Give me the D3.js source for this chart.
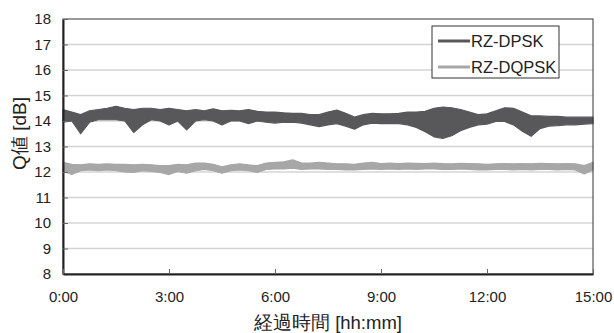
<!DOCTYPE html>
<html>
<head>
<meta charset="utf-8">
<script src="https://cdn.jsdelivr.net/npm/d3@7"></script>
<style>
  body { margin: 0; background: #fff; }
  svg { display: block; font-family: "Liberation Sans", Arial, sans-serif; }
</style>
</head>
<body>
<svg id="chart" width="614" height="333"></svg>
<script>
// Q factor over elapsed time, two formats (band = min/max envelope)
const seriesNames = ["RZ-DPSK", "RZ-DQPSK"];
const hours = [0, 0.25, 0.5, 0.75, 1, 1.25, 1.5, 1.75, 2, 2.25, 2.5, 2.75, 3, 3.25, 3.5, 3.75,
    4, 4.25, 4.5, 4.75, 5, 5.25, 5.5, 5.75, 6, 6.25, 6.5, 6.75, 7, 7.25, 7.5, 7.75,
    8, 8.25, 8.5, 8.75, 9, 9.25, 9.5, 9.75, 10, 10.25, 10.5, 10.75, 11, 11.25, 11.5, 11.75,
    12, 12.25, 12.5, 12.75, 13, 13.25, 13.5, 13.75, 14, 14.25, 14.5, 14.75, 15];

const dpskHigh = [14.45, 14.35, 14.25, 14.40, 14.45, 14.50, 14.58, 14.50, 14.45, 14.50, 14.50, 14.45, 14.50, 14.45, 14.40, 14.45,
    14.40, 14.48, 14.40, 14.42, 14.40, 14.45, 14.38, 14.35, 14.35, 14.32, 14.30, 14.30, 14.25, 14.25, 14.35, 14.43,
    14.30, 14.15, 14.25, 14.30, 14.28, 14.28, 14.30, 14.35, 14.35, 14.38, 14.50, 14.55, 14.52, 14.45, 14.35, 14.25,
    14.28, 14.40, 14.52, 14.50, 14.35, 14.20, 14.20, 14.18, 14.18, 14.15, 14.15, 14.15, 14.15];
const dpskLow = [13.95, 14.00, 13.50, 13.95, 14.05, 14.05, 14.05, 14.00, 13.55, 13.85, 14.05, 14.00, 13.85, 14.00, 13.65, 14.00,
    14.05, 14.00, 13.85, 14.00, 14.00, 13.90, 14.00, 13.95, 13.92, 13.95, 13.95, 13.92, 13.85, 13.78, 13.85, 13.90,
    13.80, 13.68, 13.85, 13.92, 13.90, 13.90, 13.90, 13.85, 13.75, 13.58, 13.38, 13.32, 13.42, 13.62, 13.75, 13.85,
    13.88, 13.98, 13.98, 13.85, 13.60, 13.40, 13.70, 13.80, 13.82, 13.85, 13.85, 13.88, 13.90];

const dqpskHigh = [12.38, 12.30, 12.28, 12.32, 12.30, 12.32, 12.30, 12.30, 12.28, 12.30, 12.28, 12.25, 12.25, 12.30, 12.28, 12.35,
    12.35, 12.30, 12.20, 12.28, 12.32, 12.28, 12.25, 12.35, 12.38, 12.40, 12.48, 12.35, 12.35, 12.38, 12.35, 12.32,
    12.32, 12.30, 12.35, 12.38, 12.33, 12.35, 12.33, 12.35, 12.34, 12.33, 12.35, 12.33, 12.32, 12.34, 12.33, 12.32,
    12.30, 12.32, 12.33, 12.32, 12.33, 12.32, 12.34, 12.33, 12.32, 12.33, 12.32, 12.25, 12.38];
const dqpskLow = [12.05, 11.90, 12.05, 12.08, 12.05, 12.08, 12.05, 12.00, 11.98, 12.05, 12.02, 11.98, 11.90, 12.02, 11.95, 12.05,
    12.10, 12.05, 11.95, 12.05, 12.08, 12.05, 11.98, 12.10, 12.12, 12.12, 12.15, 12.10, 12.12, 12.12, 12.10, 12.10,
    12.08, 12.08, 12.10, 12.12, 12.10, 12.12, 12.10, 12.12, 12.10, 12.12, 12.12, 12.10, 12.10, 12.12, 12.10, 12.08,
    12.08, 12.10, 12.10, 12.08, 12.10, 12.08, 12.10, 12.10, 12.08, 12.10, 12.08, 11.92, 12.08];

const xTicks = [0, 3, 6, 9, 12, 15];
const xTickLabels = ["0:00", "3:00", "6:00", "9:00", "12:00", "15:00"];
const yTicks = [8, 9, 10, 11, 12, 13, 14, 15, 16, 17, 18];

const colors = ["#58585a", "#a7a7a7"];

const margin = {top: 19, right: 21, bottom: 59, left: 63};
const width = 614 - margin.left - margin.right;
const height = 333 - margin.top - margin.bottom;

const svg = d3.select("#chart")
    .append("g")
    .attr("transform", `translate(${margin.left},${margin.top})`);

const x = d3.scaleLinear().domain([0, 15]).range([0, width]);
const y = d3.scaleLinear().domain([8, 18]).range([height, 0]);

// Gridlines
svg.append("g")
    .selectAll("line")
    .data(yTicks.slice(1, -1))
    .enter()
    .append("line")
    .attr("x1", 0)
    .attr("x2", width)
    .attr("y1", d => y(d))
    .attr("y2", d => y(d))
    .attr("stroke", "#d4d4d4")
    .attr("stroke-width", 1.5);

// Bands
const bands = [
    {hi: dpskHigh, lo: dpskLow, color: colors[0]},
    {hi: dqpskHigh, lo: dqpskLow, color: colors[1]}
];
const area = d3.area()
    .x((d, i) => x(hours[i]))
    .y0(d => y(d[0]))
    .y1(d => y(d[1]));

bands.forEach(b => {
    const pts = hours.map((h, i) => [b.lo[i], b.hi[i]]);
    svg.append("path")
        .datum(pts)
        .attr("d", area)
        .attr("fill", b.color)
        .attr("stroke", b.color)
        .attr("stroke-width", 1.2)
        .attr("stroke-linejoin", "round");
});

// Plot frame
svg.append("rect")
    .attr("width", width)
    .attr("height", height)
    .attr("fill", "none")
    .attr("stroke", "#333")
    .attr("stroke-width", 1);

// Y axis
const yAxis = svg.append("g")
    .call(d3.axisLeft(y).tickValues(yTicks).tickSizeInner(-5).tickSizeOuter(0).tickPadding(12));
yAxis.select(".domain").attr("stroke", "#222").attr("stroke-width", 2);
yAxis.selectAll(".tick line").attr("stroke", "#666");
yAxis.selectAll("text").attr("font-size", "15px").attr("fill", "#222").attr("font-family", null);

// X axis
const xAxis = svg.append("g")
    .attr("transform", `translate(0,${height})`)
    .call(d3.axisBottom(x).tickValues(xTicks).tickFormat((d, i) => xTickLabels[i])
        .tickSizeInner(-5).tickSizeOuter(0).tickPadding(17));
xAxis.select(".domain").attr("stroke", "#222").attr("stroke-width", 2);
xAxis.selectAll(".tick line").attr("stroke", "#666");
xAxis.selectAll("text").attr("font-size", "15px").attr("fill", "#222").attr("font-family", null);

// Axis titles
svg.append("text")
    .attr("text-anchor", "middle")
    .attr("x", width / 2)
    .attr("y", height + 55)
    .attr("font-size", "18.5px")
    .attr("fill", "#222")
    .text("経過時間 [hh:mm]");

svg.append("text")
    .attr("text-anchor", "middle")
    .attr("transform", "rotate(-90)")
    .attr("x", -(height / 2) + 13)
    .attr("y", -margin.left + 26)
    .attr("font-size", "19px")
    .attr("fill", "#222")
    .text("Q値 [dB]");

// Legend
const legend = svg.append("g")
    .attr("transform", `translate(${432 - margin.left}, ${26 - margin.top})`);

legend.append("rect")
    .attr("width", 127)
    .attr("height", 52)
    .attr("fill", "#fff")
    .attr("stroke", "#333")
    .attr("stroke-width", 1);

seriesNames.forEach((name, i) => {
    legend.append("line")
        .attr("x1", 6)
        .attr("x2", 38)
        .attr("y1", 15 + i * 26)
        .attr("y2", 15 + i * 26)
        .attr("stroke", colors[i])
        .attr("stroke-width", 3);
    legend.append("text")
        .attr("x", 39)
        .attr("y", 20.5 + i * 26)
        .attr("font-size", "16.5px")
        .attr("fill", "#222")
        .text(name);
});
</script>
</body>
</html>
